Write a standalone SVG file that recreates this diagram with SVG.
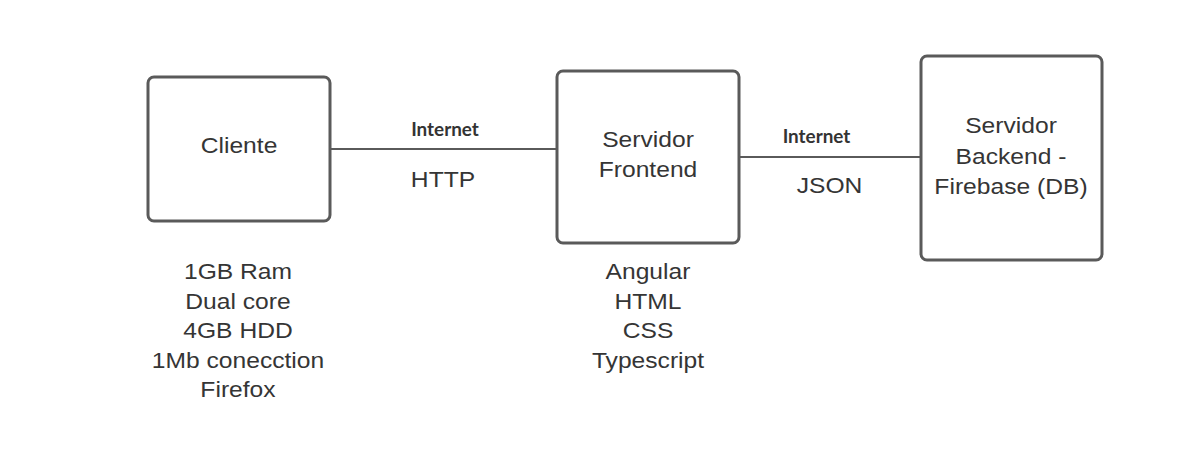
<svg xmlns="http://www.w3.org/2000/svg" width="1181" height="467" viewBox="0 0 1181 467">
<style>
.box{fill:#fff;stroke:#5a5a5a;stroke-width:3}
.t{font-family:"Liberation Sans",Arial,sans-serif;font-size:22px;fill:#353535;text-anchor:middle}
.lbl{font-family:Lato,"Liberation Sans",sans-serif;font-size:18px;font-weight:bold;fill:#333;text-anchor:middle}
.ln{stroke:#5a5a5a;stroke-width:2;fill:none}
</style>
<rect width="1181" height="467" fill="#fff"/>
<g id="connectors">
<line class="ln" x1="331" y1="149" x2="556" y2="149"/>
<line class="ln" x1="740" y1="157" x2="921" y2="157"/>
<text class="lbl" transform="translate(445,135.5) scale(1.05,1)">Internet</text>
<text class="t" transform="translate(443,187) scale(1.12,1)">HTTP</text>
<text class="lbl" transform="translate(816.5,143) scale(1.05,1)">Internet</text>
<text class="t" transform="translate(829.5,193) scale(1.12,1)">JSON</text>
</g>
<g id="cliente">
<rect class="box" x="148" y="77" width="182" height="144" rx="6"/>
<text class="t" transform="translate(239,153) scale(1.12,1)">Cliente</text>
<text class="t" transform="translate(238,279) scale(1.12,1)">1GB Ram</text>
<text class="t" transform="translate(238,308.5) scale(1.12,1)">Dual core</text>
<text class="t" transform="translate(238,338) scale(1.12,1)">4GB HDD</text>
<text class="t" transform="translate(238,367.5) scale(1.12,1)">1Mb conecction</text>
<text class="t" transform="translate(238,397) scale(1.12,1)">Firefox</text>
</g>
<g id="frontend">
<rect class="box" x="557" y="71" width="182" height="172" rx="6"/>
<text class="t" transform="translate(648,147) scale(1.12,1)">Servidor</text>
<text class="t" transform="translate(648,177) scale(1.12,1)">Frontend</text>
<text class="t" transform="translate(648,279) scale(1.12,1)">Angular</text>
<text class="t" transform="translate(648,308.5) scale(1.12,1)">HTML</text>
<text class="t" transform="translate(648,338) scale(1.12,1)">CSS</text>
<text class="t" transform="translate(648,367.5) scale(1.12,1)">Typescript</text>
</g>
<g id="backend">
<rect class="box" x="921" y="56" width="181" height="204" rx="6"/>
<text class="t" transform="translate(1011,133) scale(1.12,1)">Servidor</text>
<text class="t" transform="translate(1011,163.5) scale(1.12,1)">Backend -</text>
<text class="t" transform="translate(1011,194) scale(1.12,1)">Firebase (DB)</text>
</g>
</svg>
